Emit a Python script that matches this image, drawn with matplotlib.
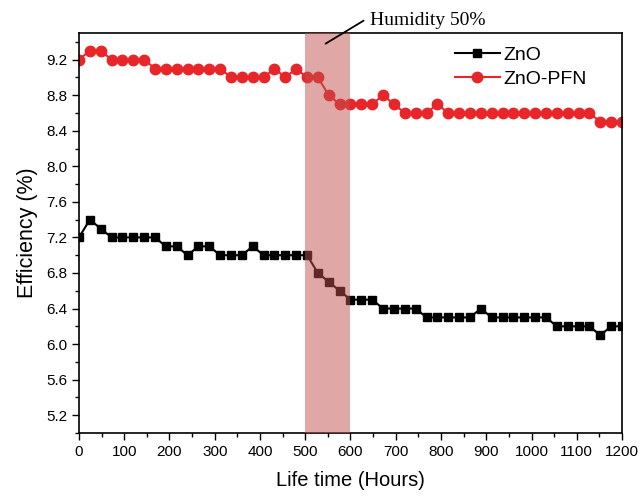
import matplotlib
matplotlib.use("Agg")
import matplotlib.pyplot as plt
from matplotlib.ticker import MultipleLocator
import numpy as np

# Measurement times (hours), one point every 24 h
hours = np.arange(0, 1201, 24)

zno = [7.2, 7.4, 7.3, 7.2, 7.2, 7.2, 7.2, 7.2, 7.1, 7.1,
       7.0, 7.1, 7.1, 7.0, 7.0, 7.0, 7.1, 7.0, 7.0, 7.0,
       7.0, 7.0, 6.8, 6.7, 6.6, 6.5, 6.5, 6.5, 6.4, 6.4,
       6.4, 6.4, 6.3, 6.3, 6.3, 6.3, 6.3, 6.4, 6.3, 6.3,
       6.3, 6.3, 6.3, 6.3, 6.2, 6.2, 6.2, 6.2, 6.1, 6.2,
       6.2]

zno_pfn = [9.2, 9.3, 9.3, 9.2, 9.2, 9.2, 9.2, 9.1, 9.1, 9.1,
           9.1, 9.1, 9.1, 9.1, 9.0, 9.0, 9.0, 9.0, 9.1, 9.0,
           9.1, 9.0, 9.0, 8.8, 8.7, 8.7, 8.7, 8.7, 8.8, 8.7,
           8.6, 8.6, 8.6, 8.7, 8.6, 8.6, 8.6, 8.6, 8.6, 8.6,
           8.6, 8.6, 8.6, 8.6, 8.6, 8.6, 8.6, 8.6, 8.5, 8.5,
           8.5]

humid_start, humid_end = 500, 600


def main():
    fig = plt.figure(figsize=(6.41, 4.96), dpi=100)
    ax = fig.add_axes([0.1232, 0.127, 0.8472, 0.8065])
    sans = "Liberation Sans"

    ax.plot(hours, zno, color="black", marker="s", markersize=6,
            linewidth=1.5, label="ZnO", zorder=2)
    ax.plot(hours, zno_pfn, color="#e8262a", marker="o", markersize=7.5,
            linewidth=1.5, label="ZnO-PFN", zorder=2)

    # humid period, drawn over the lines like the original
    ax.axvspan(humid_start, humid_end, color="#c0504d", alpha=0.5,
               linewidth=0, zorder=3)

    ax.annotate("Humidity 50%", xy=(545, 9.38), xytext=(643, 9.64),
                textcoords="data", annotation_clip=False,
                fontsize=14, family="Liberation Serif", va="center",
                arrowprops=dict(arrowstyle="-", color="black", lw=1.3,
                                relpos=(0, 0.72), shrinkA=3, shrinkB=0))

    ax.set_xlim(0, 1200)
    ax.set_ylim(5.0, 9.5)
    ax.xaxis.set_major_locator(MultipleLocator(100))
    ax.xaxis.set_minor_locator(MultipleLocator(50))
    ax.yaxis.set_minor_locator(MultipleLocator(0.2))
    yt = np.arange(5.2, 9.3, 0.4)
    ax.set_yticks(yt)
    ax.set_yticklabels([f"{v:.1f}" for v in yt])
    ax.tick_params(which="major", direction="out", length=5, width=1,
                   labelsize=11)
    ax.tick_params(which="minor", direction="out", length=3, width=1)
    for lab in ax.get_xticklabels() + ax.get_yticklabels():
        lab.set_family(sans)
    for sp in ax.spines.values():
        sp.set_linewidth(1.2)

    ax.set_xlabel("Life time (Hours)", fontsize=14.5, family=sans, labelpad=9)
    ax.set_ylabel("Efficiency (%)", fontsize=15.5, family=sans, labelpad=6)

    ax.legend(loc="upper left", bbox_to_anchor=(0.66, 1.01), frameon=False,
              prop={"family": sans, "size": 14}, handlelength=2.3,
              labelspacing=0.3, handletextpad=0.2)

    fig.savefig("out.png", dpi=100)


if __name__ == "__main__":
    main()
